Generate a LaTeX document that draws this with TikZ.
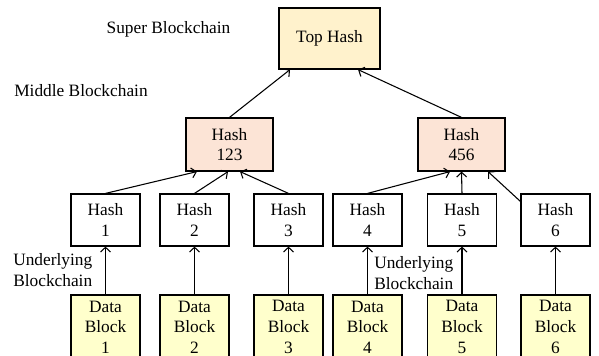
\documentclass[tikz,border=0pt]{standalone}
\usepackage{fontspec}
\setmainfont{Liberation Serif}
\usepackage{xcolor}
\usetikzlibrary{arrows.meta}
\definecolor{topfill}{HTML}{FFF2CC}
\definecolor{midfill}{HTML}{FCE4D6}
\definecolor{datafill}{HTML}{FFFFCC}
\tikzset{
    box/.style={
        draw, line width=0.9pt, align=center, inner sep=0pt,
        font=\fontsize{13}{15.5}\selectfont
    },
    tophash/.style={box, fill=topfill, minimum width=75.75pt, minimum height=45.75pt},
    midhash/.style={box, fill=midfill, minimum width=65.25pt, minimum height=39.75pt},
    leafhash/.style={box, fill=white, minimum width=51.75pt, minimum height=39pt},
    datablock/.style={box, fill=datafill, minimum width=51.75pt, minimum height=48pt},
    level/.style={font=\fontsize{13}{15.5}\selectfont, align=left, inner sep=0pt},
    up arrow/.style={
        line width=0.8pt, % thin edges with open heads
        -{Straight Barb[length=3.5pt,width=7.5pt]}
    }
}

\begin{document}
\begin{tikzpicture}[x=0.75pt, y=-0.75pt]
\useasboundingbox (0,0) rectangle (599,356);
\clip (0,0) rectangle (599,356);
\node[tophash] (T) at (329.5,38.5) {Top Hash};
\node[midhash] (M1) at (229.5,144.5) {Hash\\123};
\node[midhash] (M2) at (461.5,144.5) {Hash\\456};
\node[leafhash] (H1) at (105.5,220) {Hash\\1};
\node[leafhash] (H2) at (194.5,220) {Hash\\2};
\node[leafhash] (H3) at (288.5,220) {Hash\\3};
\node[leafhash] (H4) at (367.5,220) {Hash\\4};
\node[leafhash] (H5) at (462,220) {Hash\\5};
\node[leafhash] (H6) at (555.5,220) {Hash\\6};
\node[datablock] (D1) at (105.5,327) {Data\\Block\\1};
\node[datablock] (D2) at (194.5,327) {Data\\Block\\2};
\node[datablock] (D3) at (288.5,327) {Data\\Block\\3};
\node[datablock] (D4) at (367.5,327) {Data\\Block\\4};
\node[datablock] (D5) at (462,327) {Data\\Block\\5};
\node[datablock] (D6) at (555.5,327) {Data\\Block\\6};
\node[level] (S) at (168.5,29) {Super Blockchain};
\node[level] (MB) at (81,91) {Middle Blockchain};
\node[level, anchor=west] (U1) at (13,270) {Underlying\\Blockchain};
\node[level, anchor=west] (U2) at (374,273) {Underlying\\Blockchain};
\draw[up arrow] (D1) -- (H1);
\draw[up arrow] (D2) -- (H2);
\draw[up arrow] (D3) -- (H3);
\draw[up arrow] (D4) -- (H4);
\draw[up arrow] (D5) -- (H5);
\draw[up arrow] (D6) -- (H6);
\draw[up arrow] (H1.north) -- ([xshift=-24.4pt]M1.south);
\draw[up arrow] (H2.north) -- ([xshift=-1.1pt]M1.south);
\draw[up arrow] (H3.north) -- ([xshift=7.9pt]M1.south);
\draw[up arrow] (H4.north) -- ([xshift=-8.6pt]M2.south);
\draw[up arrow] (H5.north) -- (M2.south);
\draw[up arrow] ([yshift=-6pt]H6.north west) -- ([xshift=19.9pt]M2.south);
\draw[up arrow] (M1.north) -- ([xshift=-29.6pt]T.south);
\draw[up arrow] (M2.north) -- ([xshift=21.4pt]T.south);
\end{tikzpicture}
\end{document}
